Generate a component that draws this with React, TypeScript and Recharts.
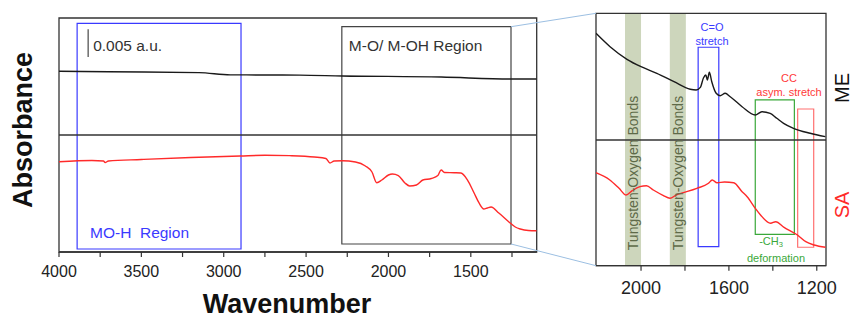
import React from "react"
import { LineChart, Line, XAxis, YAxis, ReferenceArea, ReferenceLine } from "recharts"

// overview panel (4000 - 1100 cm-1), absorbance in mAU with offsets
const overviewMeX = [4000, 3700, 3150, 2960, 2540, 2280, 1680, 1260, 1100]
const overviewMeY = [32.44, 32.35, 32.2, 31.8, 31.75, 31.6, 31.4, 31.05, 31.05]

const overviewSaX = [
  4000, 3800, 3730, 3720, 3700, 3500, 3200, 2900, 2750, 2600, 2450, 2380, 2355, 2330, 2280, 2200, 2140, 2100,
  2071, 2040, 2000, 1976, 1940, 1900, 1871, 1830, 1791, 1740, 1700, 1680, 1660, 1600, 1560, 1520, 1480, 1450,
  1421, 1400, 1377, 1330, 1270, 1230, 1200, 1150, 1100,
]
const overviewSaY = [
  16.21, 16.42, 16.33, 16.07, 16.33, 16.6, 16.96, 17.23, 17.36, 17.29, 17.05, 16.78, 15.98, 16.33, 16.39, 16.16,
  15.44, 14.36, 12.44, 12.92, 13.82, 14.0, 13.73, 12.39, 11.85, 12.03, 12.92, 13.19, 13.73, 14.72, 14.27, 14.23,
  14.18, 12.92, 10.59, 8.8, 7.72, 7.9, 8.08, 7.0, 5.44, 4.49, 4.13, 3.86, 3.82,
]
const overviewTicks = [4000, 3750, 3500, 3250, 3000, 2750, 2500, 2250, 2000, 1750, 1500, 1250]
const overviewBaseline = 21
const scaleBar = { x: 3823, y1: 35, y2: 40 }
const mohRegion = { x1: 3890, x2: 2895, y1: 0.54, y2: 41.05 }
const moRegion = { x1: 2283, x2: 1256, y1: 1.44, y2: 40.44 }

// zoomed panel (2205 - 1158 cm-1)
const zoomMeX = [
  2205, 2141, 2064, 2000, 1928, 1850, 1776, 1749, 1730, 1716, 1705, 1698, 1689, 1678, 1658, 1640, 1617, 1594,
  1540, 1480, 1450, 1412, 1382, 1351, 1306, 1230, 1161,
]
const zoomMeY = [
  46.04, 43.39, 40.89, 39.42, 38.11, 36.45, 34.95, 34.81, 35.33, 37.18, 37.78, 36.79, 38.31, 36.45, 34.15, 33.68,
  34.15, 33.48, 31.5, 29.85, 30.51, 30.19, 29.2, 28.21, 27.22, 26.23, 25.56,
]
const zoomSaX = [
  2205, 2142, 2100, 2068, 2040, 2005, 1975, 1944, 1900, 1868, 1840, 1807, 1746, 1693, 1676, 1654, 1620, 1578,
  1540, 1517, 1480, 1456, 1410, 1387, 1349, 1288, 1250, 1212, 1160,
]
const zoomSaY = [
  18.42, 16.98, 15.33, 14.01, 14.86, 15.65, 15.85, 15.0, 13.95, 13.35, 14.0, 14.46, 15.33, 16.32, 16.98, 16.44,
  16.58, 16.44, 14.66, 13.67, 11.37, 10.04, 8.4, 8.72, 7.61, 6.08, 4.75, 4.1, 3.65,
]
const zoomTicks = [2000, 1800, 1600, 1400, 1200]
const zoomBaseline = 24.9
const wBands = [
  [2073, 2000],
  [1869, 1796],
]
const coBox = { x1: 1740, x2: 1646, y1: 3.76, y2: 43.27 }
const ch3Box = { x1: 1480, x2: 1302, y1: 6.22, y2: 32.83 }
const ccBox = { x1: 1287, x2: 1214, y1: 3.65, y2: 31.04 }

const LEFT = { left: 59, right: 536.7, top: 18, bottom: 252, from: 4000, to: 1100, yMax: 42, w: 545, at: 0 }
const RIGHT = { left: 596, right: 826, top: 13.3, bottom: 265.7, from: 2205, to: 1158, yMax: 50, w: 293, at: 560 }
const H = 320
const FONT = "'Liberation Sans', Arial, sans-serif"
const AXIS = "#333"

const pts = (xs: number[], ys: number[]) => xs.map((x, i) => ({ x, y: ys[i] }))

type P = typeof LEFT
const px = (p: P, v: number) => p.left + ((p.from - v) / (p.from - p.to)) * (p.right - p.left)
const py = (p: P, v: number) => p.bottom - (v / p.yMax) * (p.bottom - p.top)

function makeTick(step: number, dy: number, size: number) {
  return (props: any) => {
    const { x, y, payload } = props
    const show = Math.round(payload.value) % step === 0
    return (
      <g>
        <line x1={x} x2={x} y1={y} y2={y + 5} stroke={AXIS} strokeWidth={1.2} />
        {show && (
          <text x={x} y={y + dy} textAnchor="middle" dominantBaseline="central" fontSize={size} fill="#222" fontFamily={FONT}>
            {payload.value}
          </text>
        )}
      </g>
    )
  }
}

const margins = (p: P) => ({ top: p.top, left: p.left - p.at, right: p.at + p.w - p.right, bottom: H - p.bottom - 30 })

export default function App() {
  const gx = px(LEFT, moRegion.x2)
  const leftDom = [LEFT.to, LEFT.from]
  const rightDom = [RIGHT.to, RIGHT.from]
  const small = 11

  return (
    <div style={{ position: "absolute", left: 0, top: 0, width: 853, height: H, background: "#fff", fontFamily: FONT }}>
      <div style={{ position: "absolute", left: LEFT.at, top: 0 }}>
        <LineChart width={LEFT.w} height={H} margin={margins(LEFT)}>
          <XAxis
            dataKey="x"
            type="number"
            domain={leftDom}
            reversed
            allowDataOverflow
            ticks={overviewTicks}
            interval={0}
            height={30}
            tickSize={0}
            tickMargin={0}
            tickLine={false}
            axisLine={{ stroke: AXIS, strokeWidth: 1.3 }}
            tick={makeTick(500, 19, 16)}
          />
          <YAxis type="number" domain={[0, LEFT.yMax]} allowDataOverflow hide />
          <ReferenceArea x1={LEFT.from} x2={LEFT.to} y1={0} y2={LEFT.yMax} fill="none" fillOpacity={0} stroke={AXIS} strokeWidth={1.3} />
          <ReferenceArea x1={mohRegion.x1} x2={mohRegion.x2} y1={mohRegion.y1} y2={mohRegion.y2} fill="none" fillOpacity={0} stroke="#3a3aff" strokeWidth={1.2} />
          <ReferenceArea x1={moRegion.x1} x2={moRegion.x2} y1={moRegion.y1} y2={moRegion.y2} fill="none" fillOpacity={0} stroke="#444" strokeWidth={1.2} />
          <ReferenceLine y={overviewBaseline} stroke={AXIS} strokeWidth={1.3} />
          <ReferenceLine segment={[{ x: scaleBar.x, y: scaleBar.y1 }, { x: scaleBar.x, y: scaleBar.y2 }]} stroke="#555" strokeWidth={1.3} />
          <Line data={pts(overviewMeX, overviewMeY)} dataKey="y" type="monotone" stroke="#1a1a1a" strokeWidth={1.4} dot={false} isAnimationActive={false} />
          <Line data={pts(overviewSaX, overviewSaY)} dataKey="y" type="monotone" stroke="#ff2a2a" strokeWidth={1.4} dot={false} isAnimationActive={false} />
        </LineChart>
      </div>

      <div style={{ position: "absolute", left: RIGHT.at, top: 0 }}>
        <LineChart width={RIGHT.w} height={H} margin={margins(RIGHT)}>
          <XAxis
            dataKey="x"
            type="number"
            domain={rightDom}
            reversed
            allowDataOverflow
            ticks={zoomTicks}
            interval={0}
            height={30}
            tickSize={0}
            tickMargin={0}
            tickLine={false}
            axisLine={{ stroke: AXIS, strokeWidth: 1.3 }}
            tick={makeTick(400, 22, 18)}
          />
          <YAxis type="number" domain={[0, RIGHT.yMax]} allowDataOverflow hide />
          {wBands.map((b, i) => (
            <ReferenceArea key={i} x1={b[0]} x2={b[1]} y1={0} y2={RIGHT.yMax} fill="#cdd6bc" fillOpacity={1} stroke="none" />
          ))}
          <ReferenceArea x1={RIGHT.from} x2={RIGHT.to} y1={0} y2={RIGHT.yMax} fill="none" fillOpacity={0} stroke={AXIS} strokeWidth={1.3} />
          <ReferenceLine y={zoomBaseline} stroke={AXIS} strokeWidth={1.3} />
          <Line data={pts(zoomMeX, zoomMeY)} dataKey="y" type="monotone" stroke="#1a1a1a" strokeWidth={1.4} dot={false} isAnimationActive={false} />
          <Line data={pts(zoomSaX, zoomSaY)} dataKey="y" type="monotone" stroke="#ff2a2a" strokeWidth={1.4} dot={false} isAnimationActive={false} />
          <ReferenceArea x1={coBox.x1} x2={coBox.x2} y1={coBox.y1} y2={coBox.y2} fill="none" fillOpacity={0} stroke="#3a3aff" strokeWidth={1.2} />
          <ReferenceArea x1={ch3Box.x1} x2={ch3Box.x2} y1={ch3Box.y1} y2={ch3Box.y2} fill="none" fillOpacity={0} stroke="#3aa83a" strokeWidth={1.2} />
          <ReferenceArea x1={ccBox.x1} x2={ccBox.x2} y1={ccBox.y1} y2={ccBox.y2} fill="none" fillOpacity={0} stroke="#ff7070" strokeWidth={1.2} />
        </LineChart>
      </div>

      <svg width={853} height={H} style={{ position: "absolute", left: 0, top: 0, pointerEvents: "none" }} fontFamily={FONT}>
        <line x1={gx} y1={py(LEFT, moRegion.y2)} x2={RIGHT.left} y2={RIGHT.top} stroke="#9cbfe2" strokeWidth={1} />
        <line x1={gx} y1={py(LEFT, moRegion.y1)} x2={RIGHT.left} y2={RIGHT.bottom} stroke="#9cbfe2" strokeWidth={1} />

        <text x={23} y={130} transform="rotate(-90 23 130)" textAnchor="middle" dominantBaseline="central" fontSize={27} fontWeight="bold" fill="#111">
          Absorbance
        </text>
        <text x={287} y={304} textAnchor="middle" dominantBaseline="central" fontSize={27} fontWeight="bold" fill="#111">
          Wavenumber
        </text>

        <text x={px(LEFT, scaleBar.x) + 5} y={45} dominantBaseline="central" fontSize={15.5} fill="#333">
          0.005 a.u.
        </text>
        <text x={90} y={232} dominantBaseline="central" fontSize={15.5} fill="#3a3aff" xmlSpace="preserve">
          MO-H  Region
        </text>
        <text x={px(LEFT, moRegion.x1) + 7} y={45} dominantBaseline="central" fontSize={15.5} fill="#333">
          M-O/ M-OH Region
        </text>

        {wBands.map((b, i) => {
          const cx = (px(RIGHT, b[0]) + px(RIGHT, b[1])) / 2
          return (
            <text key={i} x={cx} y={173} transform={`rotate(-90 ${cx} 173)`} textAnchor="middle" dominantBaseline="central" fontSize={14} fill="#5e6a48">
              Tungsten-Oxygen Bonds
            </text>
          )
        })}

        <text x={712} y={27} textAnchor="middle" dominantBaseline="central" fontSize={small} fill="#3a3aff">C=O</text>
        <text x={712} y={41} textAnchor="middle" dominantBaseline="central" fontSize={small} fill="#3a3aff">stretch</text>
        <text x={789} y={78} textAnchor="middle" dominantBaseline="central" fontSize={small} fill="#ff3a3a">CC</text>
        <text x={789} y={92} textAnchor="middle" dominantBaseline="central" fontSize={small} fill="#ff3a3a">asym. stretch</text>
        <text x={771} y={241} textAnchor="middle" dominantBaseline="central" fontSize={small} fill="#3aa83a">
          -CH<tspan fontSize={7.5} dy={3}>3</tspan>
        </text>
        <text x={776} y={258} textAnchor="middle" dominantBaseline="central" fontSize={small} fill="#3aa83a">deformation</text>

        <text x={842} y={88} transform="rotate(-90 842 88)" textAnchor="middle" dominantBaseline="central" fontSize={20} fill="#111">ME</text>
        <text x={842} y={205} transform="rotate(-90 842 205)" textAnchor="middle" dominantBaseline="central" fontSize={20} fill="#ff2a2a">SA</text>
      </svg>
    </div>
  )
}
